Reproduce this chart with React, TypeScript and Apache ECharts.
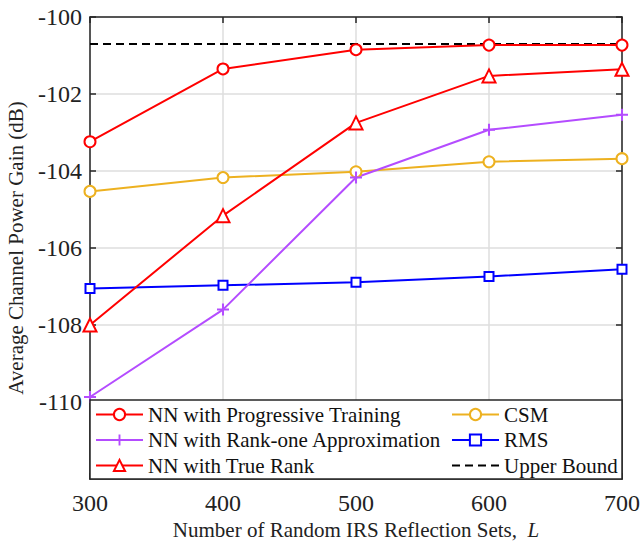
import React, { useEffect, useRef } from "react";
import * as echarts from "echarts";

const xValues = [300, 400, 500, 600, 700];
const progressive = [-103.24, -101.35, -100.85, -100.73, -100.73];
const rankOne = [-109.87, -107.6, -104.17, -102.93, -102.54];
const trueRank = [-108.0, -105.16, -102.75, -101.53, -101.36];
const csm = [-104.53, -104.17, -104.02, -103.76, -103.68];
const rms = [-107.05, -106.97, -106.89, -106.74, -106.55];
const upperBound = [-100.7, -100.7, -100.7, -100.7, -100.7];
const yTicks = [-110, -108, -106, -104, -102, -100];
const xTicks = [300, 400, 500, 600, 700];

const FONT = "'Liberation Serif', 'Times New Roman', serif";
const PLUS = "path://M4.15,0H5.85V4.15H10V5.85H5.85V10H4.15V5.85H0V4.15H4.15Z";

const pairs = (ys: number[]) => xValues.map((x, i) => [x, ys[i]]);

export default function App() {
  const ref = useRef<HTMLDivElement>(null);
  useEffect(() => {
    const chart = echarts.init(ref.current!, null, { renderer: "svg" });
    const mk = (name: string, data: number[], color: string, symbol: string, size: number, extra: any = {}) => ({
      name,
      type: "line",
      data: pairs(data),
      symbol,
      symbolSize: size,
      showSymbol: symbol !== "none",
      lineStyle: { color, width: 2, ...(extra.lineStyle || {}) },
      itemStyle: { color, borderColor: color, borderWidth: extra.borderWidth ?? 2 },
      emphasis: { disabled: true },
      z: extra.z ?? 3,
    });
    const legendText = { fontFamily: FONT, fontSize: 21, color: "#111", lineHeight: 21 };
    const axisCol = "#262626";
    chart.setOption({
      animation: false,
      grid: { left: 90, right: 21, top: 17, bottom: 63, outerBoundsMode: "none", containLabel: false },
      xAxis: [
        {
          type: "value",
          min: 300,
          max: 700,
          interval: 100,
          name: "{a|Number of Random IRS Reflection Sets,  }{i|L}",
          nameLocation: "middle",
          nameGap: 40,
          nameMoveOverlap: false,
          nameTextStyle: {
            rich: {
              a: { fontFamily: FONT, fontSize: 21, color: "#222" },
              i: { fontFamily: FONT, fontSize: 21, fontStyle: "italic", color: "#222" },
            },
          },
          axisLine: { show: true, lineStyle: { color: axisCol, width: 1.5 } },
          axisTick: { show: true, inside: true, length: 6, lineStyle: { color: axisCol, width: 1.5 } },
          axisLabel: { fontFamily: FONT, fontSize: 24, lineHeight: 14, color: "#222", margin: 17, customValues: xTicks },
          splitLine: { show: true, lineStyle: { color: "#dedede", width: 1.5 } },
        },
        {
          type: "value",
          position: "top",
          min: 300,
          max: 700,
          interval: 100,
          axisLine: { show: true, lineStyle: { color: axisCol, width: 1.5 } },
          axisTick: { show: true, inside: true, length: 6, lineStyle: { color: axisCol, width: 1.5 } },
          axisLabel: { show: false },
          splitLine: { show: false },
        },
      ],
      yAxis: [
        {
          type: "value",
          min: -112,
          max: -100,
          interval: 2,
          name: "Average Channel Power Gain (dB)",
          nameLocation: "middle",
          nameGap: 64,
          nameMoveOverlap: false,
          nameTextStyle: { fontFamily: FONT, fontSize: 21, color: "#222" },
          axisLine: { show: true, lineStyle: { color: axisCol, width: 1.5 } },
          axisTick: { show: true, inside: true, length: 6, customValues: yTicks, lineStyle: { color: axisCol, width: 1.5 } },
          axisLabel: { fontFamily: FONT, fontSize: 24, color: "#222", margin: 8, customValues: yTicks },
          splitLine: { show: true, lineStyle: { color: "#dedede", width: 1.5 } },
        },
        {
          type: "value",
          position: "right",
          min: -112,
          max: -100,
          interval: 2,
          axisLine: { show: true, lineStyle: { color: axisCol, width: 1.5 } },
          axisTick: { show: true, inside: true, length: 6, customValues: yTicks, lineStyle: { color: axisCol, width: 1.5 } },
          axisLabel: { show: false },
          splitLine: { show: false },
        },
      ],
      legend: [
        {
          orient: "vertical",
          left: 95,
          top: 404,
          padding: 0,
          itemWidth: 47,
          itemHeight: 14,
          itemGap: 4.5,
          z: 10,
          data: ["NN with Progressive Training", "NN with Rank-one Approximation", "NN with True Rank"],
          textStyle: legendText,
          selectedMode: false,
        },
        {
          orient: "vertical",
          left: 451,
          top: 404,
          padding: 0,
          itemWidth: 47,
          itemHeight: 14,
          itemGap: 4.5,
          z: 10,
          data: ["CSM", "RMS", { name: "Upper Bound", itemStyle: { opacity: 0 } }],
          textStyle: legendText,
          selectedMode: false,
        },
      ],
      graphic: [
        {
          type: "rect",
          shape: { x: 90, y: 400, width: 532, height: 79 },
          style: { fill: "#fff", stroke: axisCol, lineWidth: 1.5 },
          z: 5,
        },
      ],
      series: [
        mk("Upper Bound", upperBound, "#000", "none", 0, { lineStyle: { type: [8, 5] }, z: 2 }),
        mk("CSM", csm, "#EDB120", "emptyCircle", 11),
        mk("RMS", rms, "#0000FF", "emptyRect", 9),
        mk("NN with Rank-one Approximation", rankOne, "#B44CFF", PLUS, 12, { borderWidth: 0 }),
        mk("NN with True Rank", trueRank, "#FF0000", "emptyTriangle", 13),
        mk("NN with Progressive Training", progressive, "#FF0000", "emptyCircle", 11),
      ],
    });
    return () => chart.dispose();
  }, []);
  return <div ref={ref} style={{ position: "absolute", left: 0, top: 0, width: 643, height: 542 }} />;
}
